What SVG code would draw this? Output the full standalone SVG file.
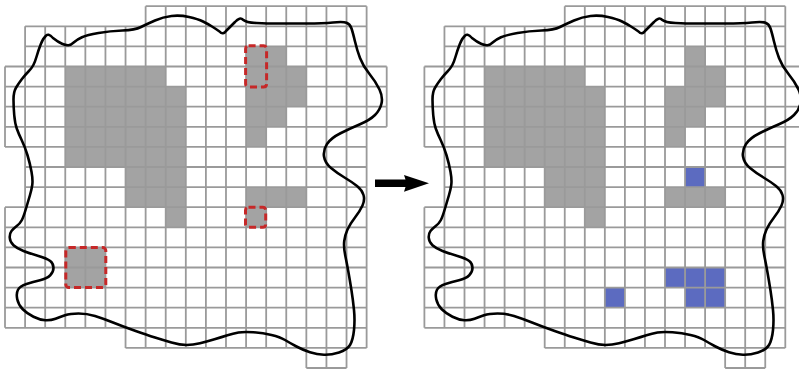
<svg xmlns="http://www.w3.org/2000/svg" xmlns:xlink="http://www.w3.org/1999/xlink" width="799" height="371" viewBox="0 0 799 371">
<style>
.bg{fill:#fff}
.gl{fill:none;stroke:#9a9a9a;stroke-width:1.8;vector-effect:non-scaling-stroke}
.g{fill:#a3a3a3}
.b{fill:#5c6bc0}
.rd{fill:none;stroke:#c62828;stroke-width:3;stroke-dasharray:7 4;stroke-linecap:butt}
.cv{fill:none;stroke:#000;stroke-width:2.6;stroke-linejoin:round}
.ar{fill:#000}
</style>
<defs>
<path id="shape" class="bg" d="M7 0H18V3H19V6H18V17H17V18H15V17H6V16H0V10H1V7H0V3H1V1H7Z"/>
<path id="lines" class="gl" d="M7 0H18M1 1H18M1 2H18M0 3H19M0 4H19M0 5H19M0 6H19M0 7H18M1 8H18M1 9H18M0 10H18M0 11H18M0 12H18M0 13H18M0 14H18M0 15H18M0 16H18M6 17H18M15 18H17M0 3V7M0 10V16M1 1V16M2 1V16M3 1V16M4 1V16M5 1V16M6 1V17M7 0V17M8 0V17M9 0V17M10 0V17M11 0V17M12 0V17M13 0V17M14 0V17M15 0V18M16 0V18M17 0V18M18 0V17M19 3V6"/>
<path id="blob" class="cv" d="M45.5 36.25Q48 32.5 53 38 58 42 62 43.75 66 45.5 68.5 45.25 71 45 74 42.25 77 39.5 82 37.25 87 35 98.5 33 110 31 122.5 30.5 135 30 141 27 147 24 155 20.5 163 17 171.5 16 180 15 189 17 198 19 203 21.5 208 24 212 26.5 216 29 219.5 31.5 223 35.5 226.5 30.5 230 27 235 22 240 16.5 243 19.75 246 22.5 256.5 23 267 23.5 278.5 23.5 290 23.5 306.5 23.5 323 23.5 333 22.5 343 21.5 346.5 22.75 350 24 351.5 28.5 353 33 355 41.5 357 50 360 58 363 66 369.5 74 376 82 379.5 89.5 383 97 381.5 103.5 380 110 375 115 370 120 360 124.25 350 128.5 340.5 133.25 331 138 327 144 323 150 324 156.5 325 163 331 168 337 173 344.5 177.5 352 182 357 186 362 190 363.5 195 365 200 362.5 205.5 360 211 355 217.5 350 224 347.5 229.5 345 235 344.25 241 343.5 247 345.25 255.5 347 264 348.5 272.5 350 281 351.5 290.5 353 300 354 310 355 320 354 330 353 340 350 345 347 350 339 352.5 331 355 324 354.75 317 354.5 310 352.25 303 350 296.5 346.5 290 343 285 340 280 337 271.5 335 263 333 253.5 332.25 244 331.5 238.5 332.5 233 333.5 227.5 335.25 222 337 214.5 339.25 207 341.5 200 343.25 193 345 186.5 345 180 345 171.5 342.5 163 340 155 337.5 147 335 135 330.75 123 326.5 113 322.5 103 318.5 95 316 87 313.5 78.5 313.5 70 313.5 65 315.25 60 317 55.5 318.75 51 320.5 45.5 320.25 40 320 33.5 316.75 27 313.5 22.75 309.25 18.5 305 17.25 299.25 16 293.5 18 289.75 20 286 26.5 284 33 282 40 280.25 47 278.5 50.25 275.25 53.5 272 53.5 267.75 53.5 263.5 50.25 261 47 258.5 38.5 256 30 253.5 23.5 251 17 248.5 13.5 245.25 10 242 9.75 237.75 9.5 233.5 11.5 231 13.5 228.5 16.75 226 20 223.5 21.75 220.25 23.5 217 26 208.5 28.5 200 30 195 31.5 190 32.25 185 33 180 31.5 171.75 30 163.5 27.5 155.25 25 147 21.75 140.25 18.5 133.5 16.75 128.5 15 123.5 14.25 115.25 13.5 107 13.5 99.5 13.5 92 16 87.75 18.5 83.5 21.75 79.25 25 75 28.25 71.75 31.5 68.5 33.25 65.25 35 62 36.75 56 38.5 50 40.75 44.25 43 38.5 45.5 36.25Z"/>
</defs>

<g id="left-panel">
  <g transform="translate(5,6.2) scale(20.09,20.1)">
    <use xlink:href="#shape"/>
    <g class="g">
      <rect x="3" y="3" width="5" height="1"/>
      <rect x="3" y="4" width="6" height="4"/>
      <rect x="6" y="8" width="3" height="2"/>
      <rect x="8" y="10" width="1" height="1"/>
      <rect x="3" y="12" width="2" height="2"/>
      <rect x="12" y="2" width="2" height="1"/>
      <rect x="12" y="3" width="3" height="2"/>
      <rect x="12" y="5" width="2" height="1"/>
      <rect x="12" y="6" width="1" height="1"/>
      <rect x="12" y="9" width="3" height="1"/>
      <rect x="12" y="10" width="1" height="1"/>
    </g>
    <use xlink:href="#lines"/>
  </g>
  <use xlink:href="#blob"/>
  <g id="marks">
    <rect class="rd" x="245.6" y="45.8" width="21" height="41.2" rx="3"/>
    <rect class="rd" x="65.8" y="247.6" width="40" height="40" rx="3"/>
    <rect class="rd" x="245.5" y="207.3" width="20.2" height="20" rx="3"/>
  </g>
</g>

<g id="connectors">
  <path class="ar" d="M375 179.6H405.5L404 175L429 183.3L404 191.7L405.5 187H375Z"/>
</g>

<g id="right-panel">
  <g transform="translate(424.4,6.2) scale(20.05,20.1)">
    <use xlink:href="#shape"/>
    <g class="g">
      <rect x="3" y="3" width="5" height="1"/>
      <rect x="3" y="4" width="6" height="4"/>
      <rect x="6" y="8" width="3" height="2"/>
      <rect x="8" y="10" width="1" height="1"/>
      <rect x="13" y="2" width="1" height="1"/>
      <rect x="13" y="3" width="2" height="1"/>
      <rect x="12" y="4" width="3" height="1"/>
      <rect x="12" y="5" width="2" height="1"/>
      <rect x="12" y="6" width="1" height="1"/>
      <rect x="12" y="9" width="3" height="1"/>
    </g>
    <g class="b">
      <rect x="13" y="8" width="1" height="1"/>
      <rect x="12" y="13" width="3" height="1"/>
      <rect x="13" y="14" width="2" height="1"/>
      <rect x="9" y="14" width="1" height="1"/>
    </g>
    <use xlink:href="#lines"/>
  </g>
  <use xlink:href="#blob" transform="translate(419,0)"/>
</g>
</svg>
